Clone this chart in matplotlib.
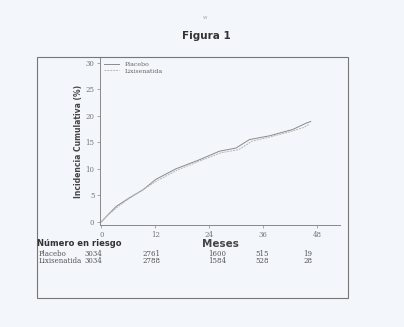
import matplotlib.pyplot as plt
import matplotlib.patches as patches
import matplotlib.transforms as mtransforms

# cumulative incidence (%)
months_placebo = [0, 1.8, 3.3, 6.2, 9.2, 12.1, 16.6, 21.8, 26.2, 29.9, 32.9, 37.3, 42.5, 45.5, 46.5]
placebo = [0, 1.6, 2.9, 4.5, 6.0, 8.0, 10.0, 11.7, 13.3, 13.9, 15.5, 16.2, 17.4, 18.6, 18.9]
months_lixi = [0, 1.5, 3.5, 6.0, 9.5, 12.5, 17.0, 22.0, 26.5, 30.5, 33.5, 37.5, 42.0, 45.0, 46.2]
lixisenatida = [0, 1.3, 2.7, 4.3, 6.2, 7.8, 9.8, 11.5, 13.0, 13.6, 15.2, 16.0, 17.0, 17.8, 18.4]

x_ticks = [0, 12, 24, 36, 48]
y_ticks = [0, 5, 10, 15, 20, 25, 30]

risk_labels = ['Placebo', 'Lixisenatida']
risk_placebo = ['3034', '2761', '1600', '515', '19']
risk_lixi = ['3034', '2788', '1584', '528', '28']
risk_x = [-1.8, 11.1, 25.8, 35.8, 45.8]

bg = '#f3f6fa'
fig = plt.figure(figsize=(4.04, 3.27), dpi=100, facecolor=bg)

# page frame
fig.patches.append(patches.Rectangle((0.0916, 0.0887), 0.770, 0.737, transform=fig.transFigure,
                                     fill=False, edgecolor='#777777', linewidth=0.8))

ax = fig.add_axes([0.2475, 0.312, 0.594, 0.511])
ax.set_facecolor('none')
ax.plot(months_placebo, placebo, color='#8a8a8a', linewidth=0.7, label='Placebo')
ax.plot(months_lixi, lixisenatida, color='#b5b5b5', linewidth=0.7, linestyle=(0, (2, 1)), label='Lixisenatida')

ax.set_xlim(-0.3, 53)
ax.set_ylim(-0.6, 30.9)
ax.set_xticks(x_ticks)
ax.set_yticks(y_ticks)
for s in ['top', 'right']:
    ax.spines[s].set_visible(False)
for s in ['left', 'bottom']:
    ax.spines[s].set_color('#888888')
    ax.spines[s].set_linewidth(0.7)
ax.tick_params(length=2, width=0.5, colors='#888888', labelsize=5, pad=2)
for lab in ax.get_xticklabels() + ax.get_yticklabels():
    lab.set_family('DejaVu Serif')
    lab.set_color('#777777')

ax.set_ylabel('Incidencia Cumulativa (%)', fontsize=5.5, fontweight='bold', color='#444444', labelpad=1.5)
ax.set_xlabel('Meses', fontsize=7.5, fontweight='bold', color='#444444', labelpad=0)

leg = ax.legend(loc='upper left', frameon=False, fontsize=4.5, handlelength=2.5, borderaxespad=0.2,
                labelspacing=0.2, prop={'family': 'DejaVu Serif', 'size': 4.5})
for t in leg.get_texts():
    t.set_color('#666666')

fig.text(0.512, 0.89, 'Figura 1', ha='center', va='center', fontsize=7.5, fontweight='bold', color='#333333')
fig.text(0.508, 0.945, 'w', ha='center', va='center', fontsize=4, color='#aaaaaa')

# number at risk table
fig.text(0.092, 0.255, 'Número en riesgo', ha='left', va='center', fontsize=6, fontweight='bold', color='#333333')
trans = mtransforms.blended_transform_factory(ax.transData, fig.transFigure)
for row, (name, vals) in enumerate(zip(risk_labels, [risk_placebo, risk_lixi])):
    y = 0.224 - row * 0.022
    fig.text(0.096, y, name, ha='left', va='center', fontsize=5, family='DejaVu Serif', color='#555555')
    for xv, v in zip(risk_x, vals):
        ax.text(xv, y, v, transform=trans, ha='center', va='center', fontsize=5,
                family='DejaVu Serif', color='#555555')

fig.savefig('out.png', dpi=100, facecolor=bg)
